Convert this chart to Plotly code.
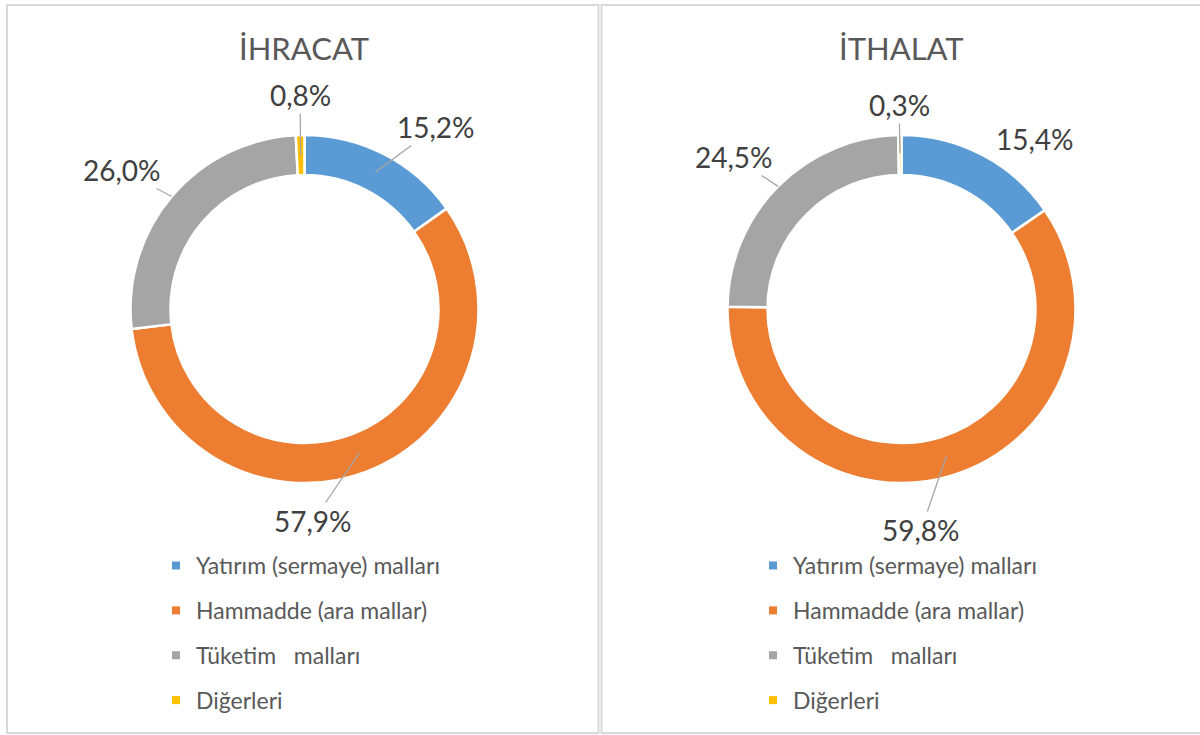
import math
import plotly.graph_objects as go

# ---------------- data ----------------
categories = ["Yatırım (sermaye) malları", "Hammadde (ara mallar)",
              "Tüketim\u00a0\u00a0\u00a0malları", "Diğerleri"]
ihracat = [15.2, 57.9, 26.0, 0.8]
ithalat = [15.4, 59.8, 24.5, 0.3]
titles = ["İHRACAT", "İTHALAT"]

# ---------------- styles ----------------
colors = ["#5B9BD5", "#ED7D31", "#A5A5A5", "#FFC000"]
W, H = 1200, 735
CX = [304.5, 901.5]
CY = 309
R = 174
HOLE = 0.77
FONT = "Lato"
# label centre offsets from pie centre (px), leader anchor radius fraction, leader shown
label_off = [
    [(131.5, -182), (8.5, 212), (-182.5, -139), (-4.5, -214)],
    [(133, -170), (19.5, 221), (-168, -152), (-2.5, -204)],
]
anchor_frac = [[0.885, 0.885, 1.0, 0.885], [0.885, 0.885, 1.0, 0.895]]
show_leader = [[True, True, True, True], [False, True, True, True]]

series = [ihracat, ithalat]
fig = go.Figure()
annotations = []
shapes = []

for k, vals in enumerate(series):
    cx = CX[k]
    fig.add_trace(go.Pie(
        labels=categories, values=vals, hole=HOLE, sort=False,
        direction="clockwise", rotation=0,
        marker=dict(colors=colors, line=dict(color="white", width=2.5)),
        textinfo="none", hoverinfo="label+value", showlegend=False,
        domain=dict(x=[(cx - R) / W, (cx + R) / W],
                    y=[(H - CY - R) / H, (H - CY + R) / H]),
    ))
    total = sum(vals)
    cum = 0.0
    for i, v in enumerate(vals):
        mid = (cum + v / 2) / total * 2 * math.pi
        cum += v
        r = R * anchor_frac[k][i]
        px = cx + r * math.sin(mid)
        py = CY - r * math.cos(mid)
        lx = cx + label_off[k][i][0]
        ly = CY + label_off[k][i][1]
        txt = f"{v:.1f}".replace(".", ",") + "%"
        if show_leader[k][i]:
            annotations.append(dict(
                x=px / W, y=1 - py / H, xref="paper", yref="paper",
                ax=lx - px, ay=ly - py, axref="pixel", ayref="pixel",
                text=txt, showarrow=True, arrowhead=0, arrowwidth=1.3,
                arrowcolor="#A6A6A6", standoff=0, startstandoff=0,
                font=dict(family=FONT, size=28, color="#404040"),
            ))
        else:
            annotations.append(dict(
                x=lx / W, y=1 - ly / H, xref="paper", yref="paper",
                text=txt, showarrow=False, xanchor="center", yanchor="middle",
                font=dict(family=FONT, size=28, color="#404040"),
            ))
    # title
    annotations.append(dict(
        x=cx / W, y=1 - 48 / H, xref="paper", yref="paper",
        text=titles[k], showarrow=False, xanchor="center", yanchor="middle",
        font=dict(family=FONT, size=31, color="#595959"),
    ))
    # legend entries
    for i, c in enumerate(categories):
        fig.add_trace(go.Scatter(
            x=[None], y=[None], mode="markers", name=c,
            marker=dict(symbol="square", size=8, color=colors[i]),
            legendgroup=f"g{k}{i}", legend="legend" if k == 0 else "legend2",
            hoverinfo="skip",
        ))

# panel borders
shapes.append(dict(type="rect", xref="paper", yref="paper",
                   x0=7 / W, x1=598.5 / W, y0=1 - 733 / H, y1=1 - 5 / H,
                   line=dict(color="#D9D9D9", width=2)))
shapes.append(dict(type="rect", xref="paper", yref="paper",
                   x0=601.5 / W, x1=1210 / W, y0=1 - 733 / H, y1=1 - 5 / H,
                   line=dict(color="#D9D9D9", width=2)))

leg_common = dict(xanchor="left", yanchor="top", tracegroupgap=12,
                  bgcolor="rgba(0,0,0,0)",
                  font=dict(family=FONT, size=23, color="#595959"))
fig.update_layout(
    width=W, height=H,
    margin=dict(l=0, r=0, t=0, b=0),
    paper_bgcolor="white", plot_bgcolor="white",
    xaxis=dict(visible=False), yaxis=dict(visible=False),
    annotations=annotations, shapes=shapes,
    legend=dict(x=156 / W, y=1 - 544 / H, **leg_common),
    legend2=dict(x=753 / W, y=1 - 544 / H, **leg_common),
)
fig.write_html("out.html", config={"displayModeBar": False},
               post_script="document.body.style.margin='0px';document.body.style.overflow='hidden';")
